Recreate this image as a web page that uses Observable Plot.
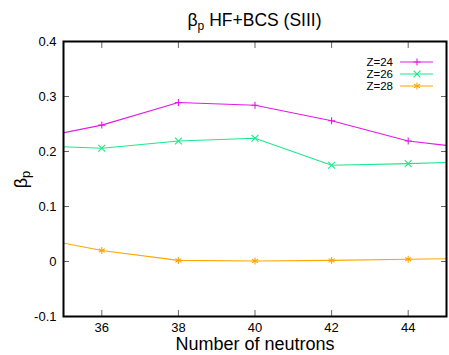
<!DOCTYPE html>
<html><head><meta charset="utf-8">
<script src="https://cdn.jsdelivr.net/npm/d3@7"></script>
<script src="https://cdn.jsdelivr.net/npm/@observablehq/plot@0.6"></script>
<style>
body{margin:0;background:#fff;font-family:"Liberation Sans",Arial,sans-serif;}
#wrap{position:relative;width:449px;height:355px;overflow:hidden;}
#title{height:33px;box-sizing:border-box;padding-top:10px;padding-left:60px;text-align:center;font-size:17.5px;line-height:20px;color:#000;white-space:nowrap;}
#title sub{font-size:12px;line-height:0;vertical-align:-4px;}
#chart svg{display:block;}
#legend{position:absolute;right:13px;top:56px;font-size:11.5px;line-height:12px;color:#000;}
.row{display:flex;align-items:center;justify-content:flex-end;height:12px;}
.row span{margin-right:7px;}
</style></head><body>
<div id="wrap"><div id="title">β<sub>p</sub> HF+BCS (SIII)</div><div id="chart"></div><div id="legend"></div></div>
<script>
const neutrons = [34, 36, 38, 40, 42, 44, 46];
const seriesNames = ["Z=24", "Z=26", "Z=28"];
const betaZ24 = [0.220, 0.248, 0.289, 0.284, 0.256, 0.219, 0.203];
const betaZ26 = [0.211, 0.206, 0.219, 0.224, 0.175, 0.178, 0.182];
const betaZ28 = [0.047, 0.020, 0.002, 0.001, 0.002, 0.004, 0.006];
const seriesColors = ["#e619e6", "#1ee88a", "#ffa500"];
const seriesSymbols = ["plus", "times", "asterisk"];
const symbolRadius = [2.4, 3.2, 3.3];
const xTicks = [36, 38, 40, 42, 44];
const yTicks = [-0.1, 0, 0.1, 0.2, 0.3, 0.4];
const yTickLabels = ["-0.1", "0", "0.1", "0.2", "0.3", "0.4"];

const seriesValues = [betaZ24, betaZ26, betaZ28];
const tables = seriesValues.map((vals, s) => neutrons.map((n, i) => ({n, beta: vals[i], series: seriesNames[s]})));

const seriesMarks = tables.flatMap((t, s) => [
  Plot.line(t, {x: "n", y: "beta", stroke: seriesColors[s], strokeWidth: 1.1, clip: true}),
  Plot.dot(t, {x: "n", y: "beta", stroke: seriesColors[s], symbol: () => seriesSymbols[s], r: symbolRadius[s], strokeWidth: 1.1, clip: true})
]);

const plot = Plot.plot({
  width: 449, height: 322,
  marginTop: 8, marginLeft: 63, marginRight: 3, marginBottom: 39,
  style: {fontFamily: "Liberation Sans, Arial, sans-serif", background: "#fff", color: "#000"},
  x: {domain: [35, 45]},
  y: {domain: [-0.1, 0.4]},
  symbol: {type: "identity"},
  marks: [
    Plot.axisX(xTicks, {anchor: "bottom", tickSize: -6, fill: null, stroke: "#666", label: null}),
    Plot.axisX(xTicks, {anchor: "top", tickSize: -6, fill: null, stroke: "#666", label: null}),
    Plot.axisY(yTicks, {anchor: "left", tickSize: -6, fill: null, stroke: "#666", label: null}),
    Plot.axisY(yTicks, {anchor: "right", tickSize: -6, fill: null, stroke: "#666", label: null}),
    Plot.axisX(xTicks, {anchor: "bottom", tickSize: 0, tickPadding: 6, fontSize: 13, label: null}),
    Plot.axisY(yTicks, {anchor: "left", tickSize: 0, tickPadding: 7, fontSize: 13, label: null,
      tickFormat: d => yTickLabels[yTicks.indexOf(d)]}),
    ...seriesMarks,
    Plot.frame({stroke: "#000", strokeWidth: 2}),
    Plot.text(["Number of neutrons"], {frameAnchor: "bottom", lineAnchor: "bottom", dy: 33, fontSize: 18})
  ]
});
document.getElementById("chart").appendChild(plot);

// y-axis label with subscript
const yl = d3.select(plot).append("text")
  .attr("transform", "translate(27,146.5) rotate(-90)")
  .attr("text-anchor", "middle")
  .attr("font-size", 18)
  .attr("font-family", "Liberation Sans, Arial, sans-serif")
  .attr("fill", "#000");
yl.append("tspan").text("β");
yl.append("tspan").attr("font-size", 13).attr("dy", 3).text("p");

// legend
const legend = d3.select("#legend");
seriesNames.forEach((name, s) => {
  const row = legend.append("div").attr("class", "row");
  row.append("span").text(name);
  const sv = row.append("svg").attr("width", 36).attr("height", 12);
  sv.append("line").attr("x1", 0).attr("x2", 33).attr("y1", 6).attr("y2", 6)
    .attr("stroke", seriesColors[s]).attr("stroke-width", 1.1);
  const sym = {plus: d3.symbolPlus, times: d3.symbolTimes, asterisk: d3.symbolAsterisk}[seriesSymbols[s]];
  sv.append("path").attr("transform", "translate(17,6)")
    .attr("d", d3.symbol(sym, Math.PI * symbolRadius[s] ** 2)())
    .attr("fill", "none").attr("stroke", seriesColors[s]).attr("stroke-width", 1.1);
});
</script>
</body></html>
